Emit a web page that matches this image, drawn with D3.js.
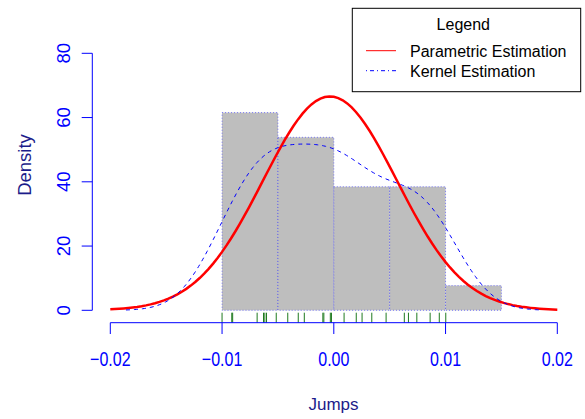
<!DOCTYPE html>
<html>
<head>
<meta charset="utf-8">
<script src="https://cdn.jsdelivr.net/npm/d3@7"></script>
<style>
  html, body { margin: 0; padding: 0; background: #ffffff; }
  svg { display: block; font-family: "Liberation Sans", Arial, Helvetica, sans-serif; }
</style>
</head>
<body>
<svg id="chart" width="585" height="419"></svg>
<script>
// ---------- data ----------
const jumps = [
  -0.01000, -0.00913, -0.00905, -0.00686, -0.00629, -0.00617, -0.00602, -0.00515,
  -0.00412, -0.00318, -0.00264, -0.00098, -0.00089, -0.00031, -0.00021,
   0.00092,  0.00201,  0.00253,  0.00340,  0.00468,
   0.00631,  0.00668,  0.00743,  0.00862,  0.00944,
   0.01002
];
const binEdges   = [-0.010, -0.005, 0.000, 0.005, 0.010, 0.015];
const binDensity = [61.54, 53.85, 38.46, 38.46, 7.69];
const xTicks = [-0.02, -0.01, 0.00, 0.01, 0.02];
const yTicks = [0, 20, 40, 60, 80];
const legendLabels = ["Parametric Estimation", "Kernel Estimation"];

// ---------- layout ----------
const svg = d3.select("#chart");
const x = d3.scaleLinear().domain([-0.02, 0.02]).range([110.3, 557.3]);
const y = d3.scaleLinear().domain([0, 80]).range([310.3, 53.3]);
const axisBlue = "#0000ff";
const titleBlue = "#1c1c8a";

// ---------- histogram ----------
const bins = binDensity.map((d, i) => ({x0: binEdges[i], x1: binEdges[i + 1], d}));
svg.append("g").selectAll("rect").data(bins).join("rect")
  .attr("x", b => x(b.x0))
  .attr("y", b => y(b.d))
  .attr("width", b => x(b.x1) - x(b.x0))
  .attr("height", b => y(0) - y(b.d))
  .attr("fill", "#bebebe")
  .attr("stroke", "#3333ff")
  .attr("stroke-opacity", 0.6)
  .attr("stroke-width", 1)
  .attr("stroke-dasharray", "1,2");

// ---------- rug ----------
svg.append("g").selectAll("line").data(jumps).join("line")
  .attr("x1", d => x(d)).attr("x2", d => x(d))
  .attr("y1", 312.7).attr("y2", 322.7)
  .attr("stroke", "#1f7a1f").attr("stroke-width", 1);

// ---------- parametric (normal, maximum-likelihood) estimate ----------
const n = jumps.length;
const mu = d3.mean(jumps);
const sd = d3.deviation(jumps);
const sdMle = sd * Math.sqrt((n - 1) / n);
const normPts = d3.range(101).map(i => {
  const v = -0.02 + i * 0.0004;
  return [v, Math.exp(-0.5 * ((v - mu) / sdMle) ** 2) / (sdMle * Math.sqrt(2 * Math.PI))];
});
const line = d3.line().x(d => x(d[0])).y(d => y(d[1])).curve(d3.curveLinear);
svg.append("path").datum(normPts)
  .attr("d", line).attr("fill", "none")
  .attr("stroke", "#ff0000").attr("stroke-width", 2.5);

// ---------- kernel estimate (gaussian, bw.nrd0) ----------
const sorted = jumps.slice().sort(d3.ascending);
const iqr = d3.quantileSorted(sorted, 0.75) - d3.quantileSorted(sorted, 0.25);
const bw = 0.9 * Math.min(sd, iqr / 1.34) * Math.pow(n, -0.2);
const lo = sorted[0] - 3 * bw, hi = sorted[n - 1] + 3 * bw;
const kdePts = d3.range(201).map(i => {
  const v = lo + (hi - lo) * i / 200;
  const s = d3.sum(jumps, xi => Math.exp(-0.5 * ((v - xi) / bw) ** 2));
  return [v, s / (n * bw * Math.sqrt(2 * Math.PI))];
});
svg.append("path").datum(kdePts)
  .attr("d", line).attr("fill", "none")
  .attr("stroke", "#0000ff").attr("stroke-width", 1)
  .attr("stroke-dasharray", "4,4");

// ---------- x axis ----------
const gx = svg.append("g");
gx.append("line").attr("x1", x(xTicks[0])).attr("x2", x(xTicks[xTicks.length - 1]))
  .attr("y1", 322.7).attr("y2", 322.7).attr("stroke", axisBlue);
gx.selectAll("line.t").data(xTicks).join("line").attr("class", "t")
  .attr("x1", d => x(d)).attr("x2", d => x(d))
  .attr("y1", 322.7).attr("y2", 334).attr("stroke", axisBlue);
const fmtX = d => (d < 0 ? "\u2212" : "") + d3.format(".2f")(Math.abs(d));
gx.selectAll("text").data(xTicks).join("text")
  .attr("transform", d => `translate(${x(d)},366) scale(0.8,1)`)
  .attr("text-anchor", "middle").attr("font-size", 20)
  .attr("fill", axisBlue).text(fmtX);
svg.append("text").attr("x", 333.5).attr("y", 410)
  .attr("text-anchor", "middle").attr("font-size", 17)
  .attr("fill", titleBlue).text("Jumps");

// ---------- y axis ----------
const gy = svg.append("g");
gy.append("line").attr("x1", 92.3).attr("x2", 92.3)
  .attr("y1", y(yTicks[0])).attr("y2", y(yTicks[yTicks.length - 1])).attr("stroke", axisBlue);
gy.selectAll("line.t").data(yTicks).join("line").attr("class", "t")
  .attr("x1", 81.7).attr("x2", 92.3)
  .attr("y1", d => y(d)).attr("y2", d => y(d)).attr("stroke", axisBlue);
gy.selectAll("text").data(yTicks).join("text")
  .attr("transform", d => `translate(70,${y(d)}) rotate(-90)`)
  .attr("text-anchor", "middle").attr("font-size", 18.5)
  .attr("fill", axisBlue).text(d => d);
svg.append("text").attr("transform", "translate(31,165) rotate(-90)")
  .attr("text-anchor", "middle").attr("font-size", 18.5)
  .attr("fill", titleBlue).text("Density");

// ---------- legend ----------
const lg = svg.append("g");
lg.append("rect").attr("x", 352.3).attr("y", 8.3).attr("width", 228.4).attr("height", 83.4)
  .attr("fill", "#ffffff").attr("stroke", "#000000").attr("stroke-width", 1);
lg.append("text").attr("x", 463.3).attr("y", 29.5).attr("text-anchor", "middle")
  .attr("font-size", 16).attr("fill", "#000000").text("Legend");
const legStyles = [
  {stroke: "#ff0000", dash: null},
  {stroke: "#0000ff", dash: "1,3,4,3"}
];
legendLabels.forEach((lab, i) => {
  const yy = 50.7 + i * 20;
  lg.append("line").attr("x1", 366).attr("x2", 396).attr("y1", yy).attr("y2", yy)
    .attr("stroke", legStyles[i].stroke).attr("stroke-width", 1)
    .attr("stroke-dasharray", legStyles[i].dash);
  lg.append("text").attr("x", 410).attr("y", yy + 5.8)
    .attr("font-size", 16).attr("fill", "#000000").text(lab);
});
</script>
</body>
</html>
